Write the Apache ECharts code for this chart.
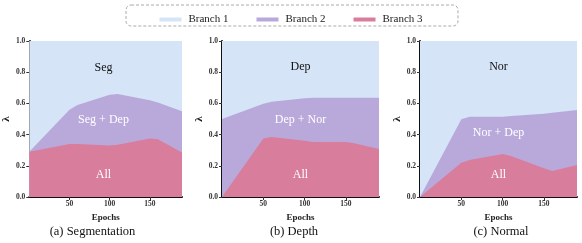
<!DOCTYPE html>
<html><head><meta charset="utf-8">
<script src="https://cdn.jsdelivr.net/npm/echarts@6/dist/echarts.min.js"></script>
<style>html,body{margin:0;padding:0;background:#fff}#c{width:582px;height:243px}</style>
</head><body><div id="c"></div>
<script>
const epochs = [0, 50, 60, 100, 110, 150, 160, 190];
const xTickLabels = [50, 100, 150];
const yTickLabels = ['0.0', '0.2', '0.4', '0.6', '0.8', '1.0'];
const branchNames = ['Branch 1', 'Branch 2', 'Branch 3'];

// Segmentation
const segBranch1 = [0.71, 0.44, 0.41, 0.345, 0.34, 0.38, 0.395, 0.45];
const segBranch2 = [0.00, 0.22, 0.25, 0.325, 0.325, 0.245, 0.235, 0.265];
const segBranch3 = [0.29, 0.34, 0.34, 0.33, 0.335, 0.375, 0.37, 0.285];
// Depth
const depBranch1 = [0.50, 0.403, 0.39, 0.367, 0.363, 0.363, 0.363, 0.363];
const depBranch2 = [0.50, 0.222, 0.225, 0.273, 0.285, 0.285, 0.292, 0.33];
const depBranch3 = [0.00, 0.375, 0.385, 0.36, 0.352, 0.352, 0.345, 0.307];
// Normal
const norBranch1 = [1.00, 0.502, 0.485, 0.485, 0.48, 0.466, 0.46, 0.442];
const norBranch2 = [0.00, 0.278, 0.278, 0.239, 0.257, 0.35, 0.373, 0.353];
const norBranch3 = [0.00, 0.22, 0.237, 0.276, 0.263, 0.184, 0.167, 0.205];

const captions = ['(a) Segmentation', '(b) Depth', '(c) Normal'];
const regionLabels = [
  ['Seg', 'Seg + Dep', 'All'],
  ['Dep', 'Dep + Nor', 'All'],
  ['Nor', 'Nor + Dep', 'All']
];

const panels = [
  [segBranch1, segBranch2, segBranch3],
  [depBranch1, depBranch2, depBranch3],
  [norBranch1, norBranch2, norBranch3]
];

const FONT = "'Liberation Serif', 'Times New Roman', 'DejaVu Serif', serif";
const colors = ['#d6e4f8', '#b9a9db', '#d87d9c'];
const gridLefts = [25, 222, 420];
const gridW = 157, gridTop = 41, gridH = 156;
const captionX = [92.5, 294, 501];
const labelY = [[67.7, 120, 175], [66.7, 120, 175], [66.7, 133, 175]];

const grids = [], xAxes = [], yAxes = [], series = [], graphics = [];
panels.forEach((p, i) => {
  grids.push({left: gridLefts[i], top: gridTop, width: gridW, height: gridH, containLabel: false});
  xAxes.push({
    type: 'value', gridIndex: i, min: 0, max: 190, interval: 50,
    name: 'Epochs', nameLocation: 'middle', nameGap: 9,
    nameTextStyle: {fontFamily: FONT, fontSize: 9, fontWeight: 'bold', color: '#222'},
    axisLine: {show: true, onZero: false, lineStyle: {color: '#111', width: 2}},
    axisTick: {show: true, length: 3, lineStyle: {color: '#333', width: 1},
      customValues: xTickLabels},
    axisLabel: {fontFamily: FONT, fontSize: 7.5, fontWeight: 'bold', color: '#333', margin: 3,
      customValues: xTickLabels,
      formatter: v => xTickLabels.includes(v) ? String(v) : ''},
    splitLine: {show: false}
  });
  yAxes.push({
    type: 'value', gridIndex: i, min: 0, max: 1, interval: 0.2,
    name: 'λ', nameLocation: 'middle', nameGap: 13,
    nameTextStyle: {fontFamily: FONT, fontSize: 11, fontWeight: 'bold', color: '#222'},
    axisLine: {show: true, onZero: false, lineStyle: {color: '#111', width: 2}},
    axisTick: {show: true, length: 3, lineStyle: {color: '#333', width: 1}},
    axisLabel: {fontFamily: FONT, fontSize: 7.5, fontWeight: 'bold', color: '#333', margin: 4,
      formatter: v => yTickLabels[Math.round(v * 5)]},
    splitLine: {show: false}
  });
  // cumulative tops: Branch 3 at bottom, then Branch 2, then Branch 1
  const cum = [
    epochs.map((e, k) => p[2][k] + p[1][k] + p[0][k]),
    epochs.map((e, k) => p[2][k] + p[1][k]),
    epochs.map((e, k) => p[2][k])
  ];
  [0, 1, 2].forEach(b => {
    series.push({
      name: branchNames[b], type: 'line', xAxisIndex: i, yAxisIndex: i,
      showSymbol: false, symbol: 'none',
      lineStyle: {width: 0, color: colors[b]},
      itemStyle: {color: colors[b]},
      areaStyle: {color: colors[b], opacity: 1, origin: 'start'},
      emphasis: {disabled: true},
      data: epochs.map((e, k) => [e, Math.min(1, cum[b][k])]),
      z: 2 + b
    });
  });
  const cx = gridLefts[i] + gridW / 2;
  regionLabels[i].forEach((t, k) => {
    graphics.push({type: 'text', x: cx, y: labelY[i][k], z: 100,
      style: {text: t, font: '12px ' + FONT, fill: k === 0 ? '#111' : '#ffffff',
        textAlign: 'center', textVerticalAlign: 'middle'}});
  });
  graphics.push({type: 'text', x: captionX[i], y: 231.5, z: 100,
    style: {text: captions[i], font: '12.5px ' + FONT, fill: '#111',
      textAlign: 'center', textVerticalAlign: 'middle'}});
});

graphics.push({type: 'rect', shape: {x: 126, y: 5, width: 332, height: 21, r: 5}, z: 100,
  style: {fill: 'none', stroke: '#aaa', lineWidth: 1, lineDash: [3, 2]}});

const chart = echarts.init(document.getElementById('c'), null, {renderer: 'canvas'});
chart.setOption({
  animation: false,
  backgroundColor: '#fff',
  legend: {
    data: branchNames.map((n, b) => ({name: n, icon: 'rect', itemStyle: {color: colors[b]}})),
    top: 9, left: 'center', itemWidth: 22, itemHeight: 4, itemGap: 28,
    textStyle: {fontFamily: FONT, fontSize: 11, color: '#222', padding: [0, 0, 0, 2]},
    selectedMode: false
  },
  grid: grids, xAxis: xAxes, yAxis: yAxes, series: series, graphic: graphics
});
</script></body></html>
